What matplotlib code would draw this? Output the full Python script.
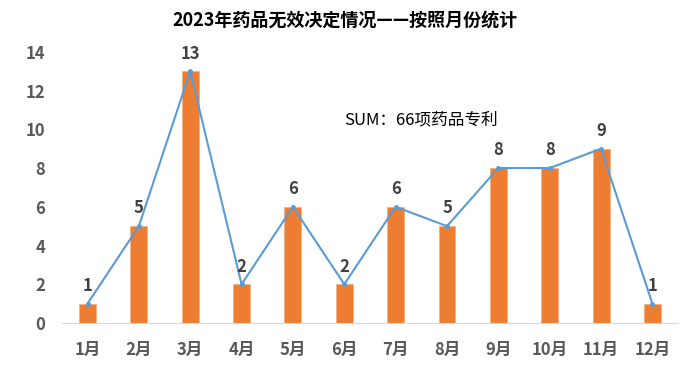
import matplotlib.pyplot as plt

plt.rcParams['font.family'] = ['Noto Sans CJK SC', 'DejaVu Sans']

months = ['1月', '2月', '3月', '4月', '5月', '6月', '7月', '8月', '9月', '10月', '11月', '12月']
counts = [1, 5, 13, 2, 6, 2, 6, 5, 8, 8, 9, 1]
y_ticks = [0, 2, 4, 6, 8, 10, 12, 14]

title = '2023年药品无效决定情况——按照月份统计'
note = 'SUM：66项药品专利'

fig = plt.figure(figsize=(6.87, 3.73), dpi=100)
ax = fig.add_axes([0.090, 0.134, 0.897, 0.727])

x = list(range(len(months)))
ax.bar(x, counts, width=0.33, color='#ED7D31', edgecolor='#F4B183', linewidth=0.6, zorder=2)
ax.plot(x, counts, color='#5B9BD5', linewidth=1.5, marker='o', markersize=2.5, zorder=3)

# value labels above bars
for xi, v in zip(x, counts):
    ax.text(xi, v + 0.45, str(v), ha='center', va='bottom', fontsize=12,
            fontweight='bold', color='#404040')

ax.set_xlim(-0.5, len(months) - 0.5)
ax.set_ylim(0, 14)
ax.set_yticks(y_ticks)
ax.set_xticks(x)
ax.set_xticklabels(months)
ax.tick_params(axis='both', length=0, labelsize=12, labelcolor='#595959')
ax.tick_params(axis='x', pad=13)
ax.tick_params(axis='y', pad=12)
for lbl in ax.get_xticklabels() + ax.get_yticklabels():
    lbl.set_fontweight('bold')

for side in ['top', 'right', 'left']:
    ax.spines[side].set_visible(False)
ax.spines['bottom'].set_color('#D9D9D9')

fig.text(0.502, 0.945, title, ha='center', va='center', fontsize=13, fontweight='bold', color='black')
ax.text(5.0, 10.5, note, ha='left', va='center', fontsize=12, color='black')

fig.savefig('out.png', dpi=100)
